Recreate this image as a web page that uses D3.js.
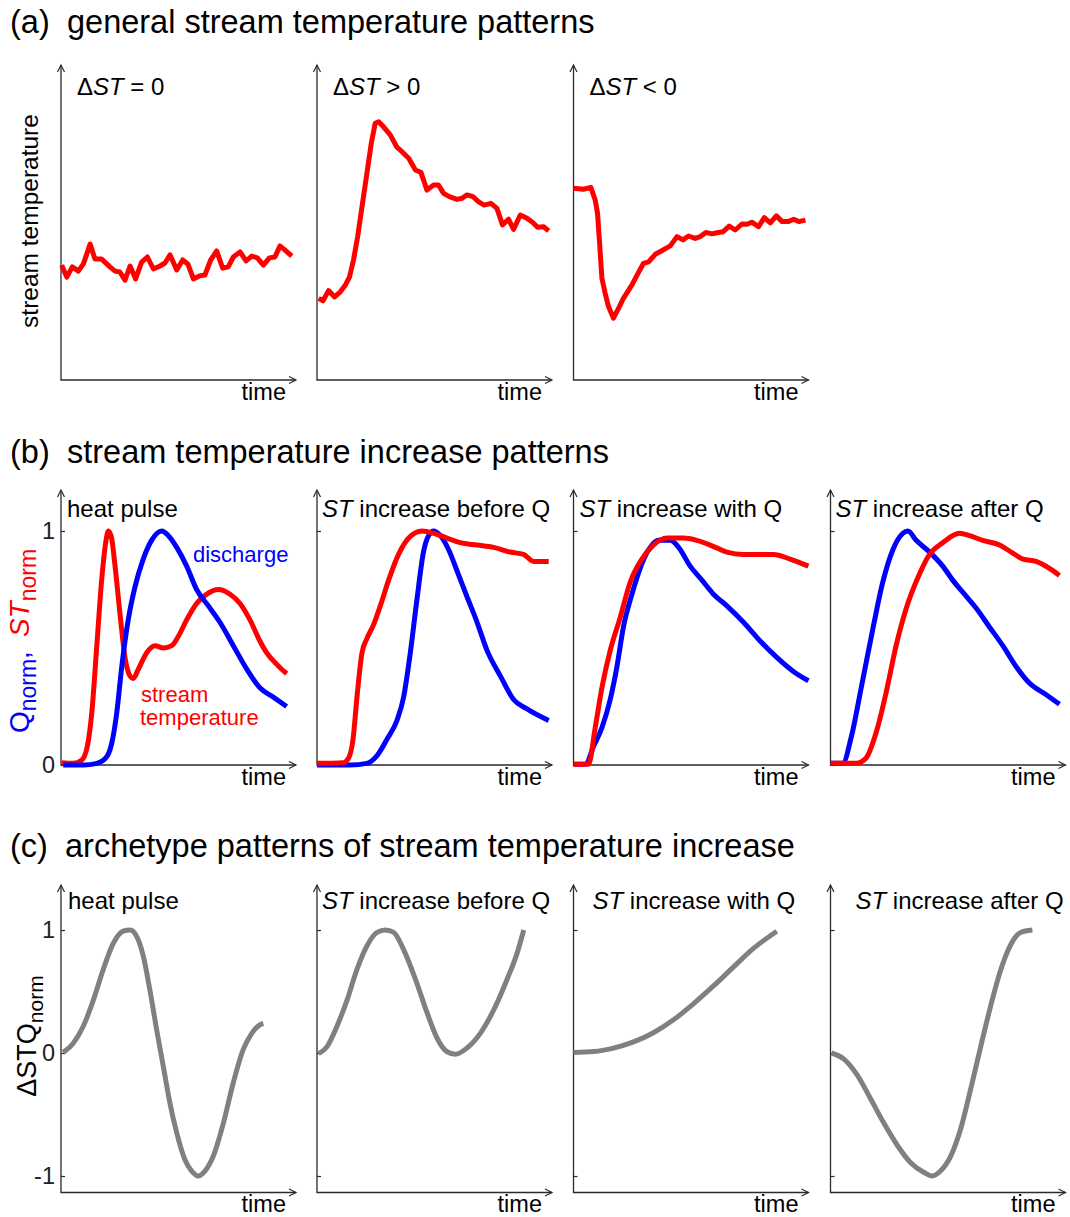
<!DOCTYPE html>
<html>
<head>
<meta charset="utf-8">
<script src="https://cdn.jsdelivr.net/npm/d3@7"></script>
<style>
  body { margin: 0; background: #fff; }
  svg { display: block; font-family: "Liberation Sans", Arial, sans-serif; }
</style>
</head>
<body>
<svg id="fig" width="1070" height="1217"></svg>
<script>
// ---- data (time in % of window) ----

// (a) general stream temperature patterns, arbitrary temperature units 0..100
var tA1 = [0.3,2.5,4.9,7.5,9.7,12.6,14.7,17.6,21.2,23.4,25.5,27.7,29.9,32.3,34.9,37.4,40,42.9,45,47.2,50.1,52.7,54.9,57.3,59.9,62.3,64.8,67.4,70,72.4,74.6,77.5,80.1,82.6,85,87.6,90.2,92.6,94.8,97,99.9];
var stA1 = [38.3,34.3,37.7,36.3,38.7,45.3,40.3,40.3,37.7,36.3,36,33.3,38,33.7,39.3,41,37,38,39,41.7,36.7,40,38.7,33.7,34.7,35,40,43,37.3,37.7,41,42.7,39.7,41.3,40.7,38.3,40.7,41,44.7,43.3,41.3];

var tA2 = [0.7,2.6,5,7.6,10.1,12.3,14.1,15.8,17.6,19.5,21.6,23.5,25.2,26.7,28.8,31.7,34.6,36.8,39.7,42.6,45,47.6,50.5,52.6,54.8,57.3,60.6,62.8,64.9,67.5,70,72.4,75.3,77.9,80.3,82.9,85.1,88,90.9,93.3,95.5,98.1,100.3];
var stA2 = [27.2,26.4,29.8,27.7,29.4,31.7,34.4,40,47.8,57.8,68.9,78.9,85.6,86.1,84.4,81.7,77.6,76.1,73.9,70,69.2,63.3,65,65,62.2,61.1,60.2,60.6,61.7,61.1,59.4,58.3,58.9,57.2,51.7,53.6,50.2,55,53.9,52.6,50.9,51.1,49.7];

var tA3 = [0,4.3,7.5,9.4,10.4,11.3,12.3,13.7,15.2,17.3,19.5,21.6,25.3,28.1,30.3,32.5,35.4,38.2,41.9,44.8,47.4,49.8,52.7,54.9,57.3,59.9,62.1,64.7,67.4,70,72.9,75.1,77.2,80.1,82.6,85.2,87.8,90.3,92.9,95.3,97.5,100.4];
var stA3 = [63.9,63.6,64.2,60,55.6,45.6,33.9,28.9,24.4,20.6,23.9,27.2,31.7,35.8,38.9,39.4,41.9,43.1,44.7,47.8,46.7,48,47.2,47.8,49.2,48.7,49.1,49.4,51.3,50,52,51.9,52.6,51.1,54.1,52.4,54.7,52.8,52.8,53.6,52.8,53.3];

var signsA = ["= 0", "> 0", "< 0"];

// (b) normalised discharge (Q) and stream temperature (ST)
var tB1q = [1,9.7,15.5,19.8,21.9,24.1,26.3,29.1,32,35.6,39.2,43.6,46.5,50.1,54.4,58.7,63.8,68.8,74.6,80.4,86.1,91.9,97.7];
var qB1 = [0,0,0.007,0.035,0.09,0.22,0.42,0.62,0.76,0.88,0.96,1.0,0.98,0.93,0.85,0.75,0.68,0.61,0.51,0.41,0.33,0.29,0.25];
var tB1st = [0.3,5.3,8.9,11.4,13.3,15.5,17.6,19.5,20.5,21.9,23.4,25.5,27.7,29.9,31.3,33.5,37.1,40.7,44.3,47.9,50.8,54.4,58.7,63.1,68.1,73.2,77.5,81.8,86.1,89,93.4,97.7];
var stB1 = [0.01,0.007,0.02,0.08,0.22,0.51,0.79,0.96,1.0,0.97,0.85,0.65,0.46,0.38,0.37,0.41,0.48,0.51,0.5,0.51,0.55,0.62,0.69,0.73,0.75,0.73,0.69,0.62,0.53,0.48,0.43,0.39];

var tB2q = [0,14.4,21.6,26,30.3,34.6,37.5,40.4,43.3,46.1,48.3,50.5,53.4,57,60.6,64.9,69.3,73.6,79.4,85.1,90.9,100.3];
var qB2 = [0,0,0.007,0.04,0.11,0.19,0.29,0.48,0.71,0.91,0.98,1.0,0.98,0.92,0.83,0.72,0.61,0.49,0.38,0.28,0.24,0.19];
var tB2st = [0,11.5,13.7,15.6,17.3,19.5,21.6,24.5,27.4,31,35.3,39.7,45.5,50.5,56.3,62,69.3,76.5,83.7,89.4,93.8,100.3];
var stB2 = [0.007,0.01,0.03,0.11,0.29,0.48,0.54,0.6,0.68,0.79,0.9,0.97,1.0,0.99,0.97,0.95,0.94,0.93,0.91,0.9,0.87,0.87];

var tB3q = [0,5.1,8.7,12.3,15.9,18.8,21.6,25.3,29.6,33.2,36.8,41.9,45.5,50.5,55.6,60.6,66.4,73.6,80.8,88,95.2,101.7];
var qB3 = [0.003,0.003,0.08,0.16,0.28,0.42,0.59,0.73,0.86,0.93,0.96,0.96,0.93,0.85,0.79,0.73,0.68,0.61,0.53,0.46,0.4,0.36];
var tB3st = [0,6.5,9.4,12.3,15.9,20.2,24.5,29.6,34.6,40.4,47.6,53.4,59.2,66.4,73.6,80.8,86.6,93.8,101.7];
var stB3 = [0.003,0.003,0.16,0.33,0.49,0.63,0.78,0.88,0.94,0.97,0.97,0.96,0.94,0.91,0.9,0.9,0.9,0.88,0.85];

var tB4q = [0,5.3,9,13.3,18.3,22.6,27,31.3,33.5,37.1,42.9,48.6,52.9,58,63.1,68.8,74.6,80.4,86.1,93.4,99.1];
var qB4 = [0.007,0.007,0.12,0.33,0.58,0.78,0.92,0.99,1.0,0.96,0.91,0.85,0.79,0.73,0.67,0.59,0.51,0.42,0.35,0.3,0.26];
var tB4st = [0,11.1,15.4,19.8,24.1,28.4,32.8,37.8,42.9,48.6,55.8,60.2,65.9,73.2,78.2,83.3,89,94.8,99.1];
var stB4 = [0.007,0.007,0.03,0.14,0.31,0.51,0.67,0.8,0.9,0.95,0.99,0.98,0.96,0.94,0.91,0.88,0.87,0.84,0.81];

// (c) archetypes of delta STQ (normalised)
var tC1 = [1,5.3,9.7,14,18.3,22.6,26.9,29.9,32.7,35.6,38.5,41.4,44.3,47.2,50.1,53.7,56.6,59.4,62.3,65.9,70.3,74.6,78.9,82.6,85.4,87.6];
var dC1 = [0.005,0.08,0.22,0.43,0.68,0.89,0.99,1.0,0.95,0.79,0.51,0.19,-0.11,-0.41,-0.65,-0.87,-0.96,-1.0,-0.96,-0.84,-0.57,-0.24,0.03,0.16,0.22,0.24];
var tC2 = [0.7,4.3,8.7,13,17.3,21.6,26,29.6,33.2,37.5,42.6,47.6,52,56.3,59.9,64.9,70.7,76.5,82.3,86.6,89.5];
var dC2 = [-0.005,0.05,0.22,0.43,0.68,0.87,0.98,1.0,0.98,0.84,0.6,0.33,0.12,0.01,-0.01,0.04,0.16,0.35,0.6,0.81,1.0];
var tC3 = [0,8.7,17.3,26,34.6,43.3,51.9,60.6,69.3,77.9,88];
var dC3 = [0.005,0.012,0.04,0.09,0.165,0.27,0.4,0.545,0.7,0.85,0.99];
var tC4 = [0.4,5.8,11.6,17.3,23.1,28.9,34.6,40.4,44,47.6,52,56.3,60.6,65,69.3,73.6,78,82.3,87.4];
var dC4 = [0,-0.05,-0.18,-0.37,-0.57,-0.75,-0.89,-0.97,-1.0,-0.96,-0.84,-0.62,-0.3,0.05,0.38,0.67,0.88,0.98,1.0];

var titlesBC = ["heat pulse", "increase before Q", "increase with Q", "increase after Q"];
var ticksB = [0, 1];
var ticksC = [-1, 0, 1];

// ---- layout ----
var axisX = [61, 317, 573.5, 830.5];
var plotW = 231;
var red = "#ff0000", blue = "#0000ff", grey = "#808080", ink = "#2b2b2b";

var svg = d3.select("#fig");

function zip(ts, vs) { return ts.map(function (t, i) { return [t, vs[i]]; }); }

// thin axes with open arrow heads, like the original
function drawAxes(g, x0, yTop, yBase) {
  var xEnd = x0 + 235;
  g.append("path")
    .attr("d", "M" + x0 + "," + yTop + "V" + yBase + "H" + xEnd)
    .attr("fill", "none").attr("stroke", ink).attr("stroke-width", 1.3);
  g.append("path")
    .attr("d", "M" + (x0 - 3.5) + "," + (yTop + 7) + "L" + x0 + "," + yTop + "L" + (x0 + 3.5) + "," + (yTop + 7))
    .attr("fill", "none").attr("stroke", ink).attr("stroke-width", 1.2);
  g.append("path")
    .attr("d", "M" + (xEnd - 7) + "," + (yBase - 3.5) + "L" + xEnd + "," + yBase + "L" + (xEnd - 7) + "," + (yBase + 3.5))
    .attr("fill", "none").attr("stroke", ink).attr("stroke-width", 1.2);
  g.append("text")
    .attr("x", x0 + 225).attr("y", yBase + 19.5)
    .attr("text-anchor", "end").attr("font-size", 23.5).attr("fill", "#000")
    .text("time");
}

function yTicks(g, x0, y, values, labels) {
  var ax = g.append("g")
    .attr("transform", "translate(" + x0 + ",0)")
    .call(d3.axisLeft(y).tickValues(values).tickSize(-4).tickPadding(6)
      .tickFormat(labels ? function (d) { return String(d); } : function () { return ""; }));
  ax.select(".domain").remove();
  ax.selectAll("line").attr("stroke", ink).attr("stroke-width", 1.2);
  ax.selectAll("text").attr("font-size", 23.5).attr("fill", "#222")
    .attr("font-family", "Liberation Sans, Arial, sans-serif");
}

function drawCurve(g, x, y, pts, color, width, curve) {
  var line = d3.line()
    .x(function (d) { return x(d[0]); })
    .y(function (d) { return y(d[1]); })
    .curve(curve);
  g.append("path").datum(pts)
    .attr("d", line)
    .attr("fill", "none").attr("stroke", color)
    .attr("stroke-width", width)
    .attr("stroke-linejoin", "round");
}

function panelTitle(g, px, py, parts, size) {
  var t = g.append("text").attr("x", px).attr("y", py).attr("font-size", size).attr("fill", "#000");
  parts.forEach(function (p) {
    t.append("tspan").attr("font-style", p[1] ? "italic" : null).text(p[0]);
  });
}

function sectionTitle(letter, text, y, xText) {
  svg.append("text").attr("x", 10).attr("y", y).attr("font-size", 32.5).text(letter);
  svg.append("text").attr("x", xText).attr("y", y).attr("font-size", 32.5).text(text);
}

// ---- (a) ----
sectionTitle("(a)", "general stream temperature patterns", 33, 67);
var rowA = [zip(tA1, stA1), zip(tA2, stA2), zip(tA3, stA3)];
var yA = d3.scaleLinear().domain([0, 100]).range([380, 80]);
rowA.forEach(function (pts, i) {
  var x0 = axisX[i];
  var g = svg.append("g");
  var x = d3.scaleLinear().domain([0, 100]).range([x0, x0 + plotW]);
  drawAxes(g, x0, 65, 380);
  drawCurve(g, x, yA, pts, red, 5, d3.curveLinear);
  panelTitle(g, x0 + 16, 95, [["\u0394", 0], ["ST", 1], [" " + signsA[i], 0]], 24);
});
svg.append("text")
  .attr("transform", "translate(38,221) rotate(-90)")
  .attr("text-anchor", "middle").attr("font-size", 24.5)
  .text("stream temperature");

// ---- (b) ----
sectionTitle("(b)", "stream temperature increase patterns", 463, 67);
var rowB = [
  { q: zip(tB1q, qB1), st: zip(tB1st, stB1) },
  { q: zip(tB2q, qB2), st: zip(tB2st, stB2) },
  { q: zip(tB3q, qB3), st: zip(tB3st, stB3) },
  { q: zip(tB4q, qB4), st: zip(tB4st, stB4) }
];
var yB = d3.scaleLinear().domain([0, 1]).range([765, 531]);
var titleOffB = [6, 5, 6, 5];
rowB.forEach(function (d, i) {
  var x0 = axisX[i];
  var g = svg.append("g");
  var x = d3.scaleLinear().domain([0, 100]).range([x0, x0 + plotW]);
  drawAxes(g, x0, 490, 765);
  yTicks(g, x0, yB, ticksB, i === 0);
  if (i === 0) {
    drawCurve(g, x, yB, d.st, red, 5, d3.curveMonotoneX);
    drawCurve(g, x, yB, d.q, blue, 5, d3.curveMonotoneX);
  } else {
    drawCurve(g, x, yB, d.q, blue, 5, d3.curveMonotoneX);
    drawCurve(g, x, yB, d.st, red, 5, d3.curveMonotoneX);
  }
  var parts = i === 0 ? [[titlesBC[i], 0]] : [["ST", 1], [" " + titlesBC[i], 0]];
  panelTitle(g, x0 + titleOffB[i], 517, parts, 24);
});
svg.append("text").attr("x", 193).attr("y", 562).attr("font-size", 22).attr("fill", blue).text("discharge");
svg.append("text").attr("x", 141).attr("y", 702).attr("font-size", 22).attr("fill", red).text("stream");
svg.append("text").attr("x", 140).attr("y", 725).attr("font-size", 22).attr("fill", red).text("temperature");

var lblB = svg.append("text")
  .attr("transform", "translate(29,641) rotate(-90)")
  .attr("text-anchor", "middle").attr("font-size", 28);
lblB.append("tspan").attr("fill", blue).text("Q");
lblB.append("tspan").attr("fill", blue).attr("font-size", 23).attr("dy", 7).text("norm");
lblB.append("tspan").attr("fill", blue).attr("dy", -7).text(",");
lblB.append("tspan").attr("fill", red).attr("font-style", "italic").attr("dx", 14).text("ST");
lblB.append("tspan").attr("fill", red).attr("font-size", 23).attr("dy", 7).text("norm");

// ---- (c) ----
sectionTitle("(c)", "archetype patterns of stream temperature increase", 857, 65);
var rowC = [zip(tC1, dC1), zip(tC2, dC2), zip(tC3, dC3), zip(tC4, dC4)];
var yC = d3.scaleLinear().domain([-1, 1]).range([1176, 930]);
var titleOffC = [7, 5, 19, 25];
rowC.forEach(function (pts, i) {
  var x0 = axisX[i];
  var g = svg.append("g");
  var x = d3.scaleLinear().domain([0, 100]).range([x0, x0 + plotW]);
  drawAxes(g, x0, 885, 1192.5);
  yTicks(g, x0, yC, ticksC, i === 0);
  drawCurve(g, x, yC, pts, grey, 5, d3.curveMonotoneX);
  var parts = i === 0 ? [[titlesBC[i], 0]] : [["ST", 1], [" " + titlesBC[i], 0]];
  panelTitle(g, x0 + titleOffC[i], 909, parts, 24);
});
var lblC = svg.append("text")
  .attr("transform", "translate(36,1036) rotate(-90)")
  .attr("text-anchor", "middle").attr("font-size", 27);
lblC.append("tspan").text("\u0394STQ");
lblC.append("tspan").attr("font-size", 21).attr("dy", 7).text("norm");
</script>
</body>
</html>
